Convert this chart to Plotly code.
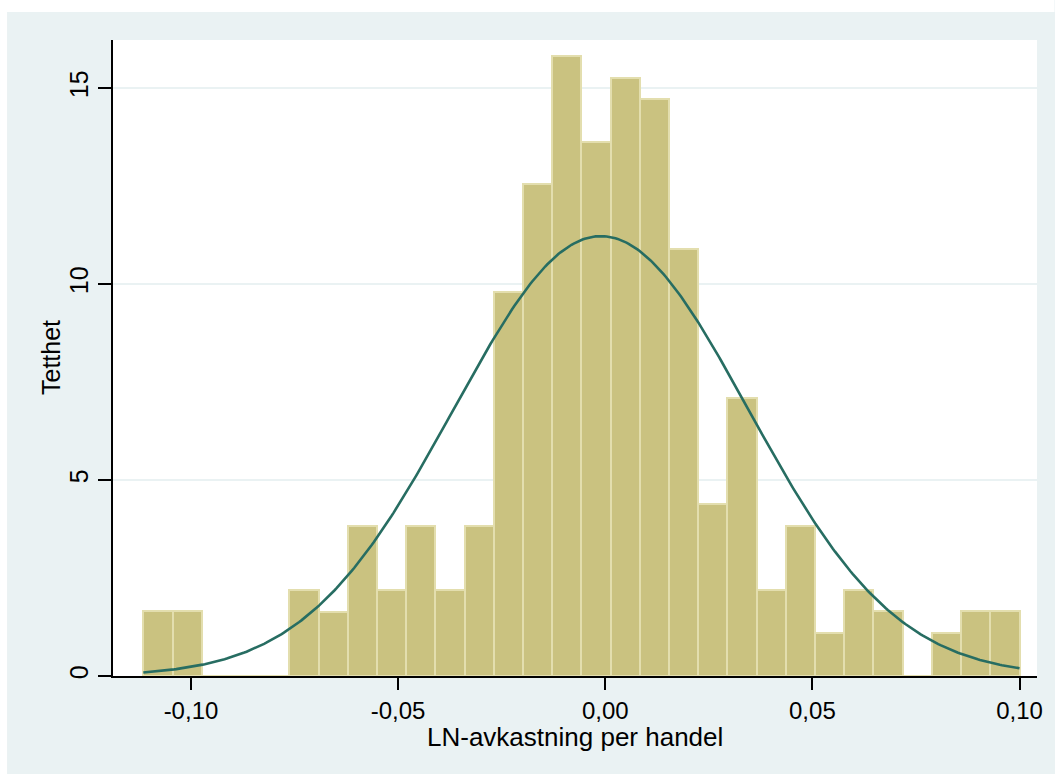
import numpy as np
import plotly.graph_objects as go

# Histogram of log-returns per trade (density scale), 30 equal-width bins
x_min = -0.1115
x_max = 0.1000
n_bins = 30
density = [1.65, 1.65, 0.0, 0.0, 0.0, 2.19, 1.64, 3.83, 2.19, 3.83,
           2.19, 3.83, 9.80, 12.54, 15.82, 13.63, 15.26, 14.72, 10.89, 4.38,
           7.10, 2.19, 3.83, 1.09, 2.19, 1.66, 0.0, 1.09, 1.66, 1.66]

# Fitted normal density parameters
norm_mean = -0.00104
norm_sd = 0.03555

x_tickvals = [-0.10, -0.05, 0.00, 0.05, 0.10]
x_ticktext = ["-0,10", "-0,05", "0,00", "0,05", "0,10"]
y_tickvals = [0, 5, 10, 15]
y_ticktext = ["0", "5", "10", "15"]

x_title = "LN-avkastning per handel"
y_title = "Tetthet"

# Colours
REGION_BG = "#EAF2F3"
BAR_FILL = "#CAC280"
BAR_EDGE = "#E3DEAE"
CURVE = "#276D62"
FONT = "Liberation Sans, Arial, sans-serif"

W, H = 1055, 774
ML, MR, MT, MB = 113, 17.5, 40, 98
X_RANGE = [-0.11882, 0.10422]
Y_RANGE = [0, (H - MT - MB) / 39.2]

bin_w = (x_max - x_min) / n_bins
centers = x_min + bin_w * (np.arange(n_bins) + 0.5)

xs = np.linspace(x_min, x_max, 400)
pdf = np.exp(-0.5 * ((xs - norm_mean) / norm_sd) ** 2) / (norm_sd * np.sqrt(2 * np.pi))

fig = go.Figure()
fig.add_trace(go.Bar(
    x=centers, y=density, width=bin_w,
    marker=dict(color=BAR_FILL, line=dict(color=BAR_EDGE, width=2)),
    hoverinfo="x+y", showlegend=False,
))
fig.add_trace(go.Scatter(
    x=xs, y=pdf, mode="lines",
    line=dict(color=CURVE, width=2.6),
    hoverinfo="skip", showlegend=False,
))

pw = W - ML - MR
ph = H - MT - MB


def px_x(p):
    return (p - ML) / pw


def px_y(p):
    return (H - MB - p) / ph


# white strips at the top and left edge of the graph region
shapes = [
    dict(type="rect", xref="paper", yref="paper",
         x0=px_x(0), x1=px_x(W), y0=px_y(12), y1=px_y(0),
         fillcolor="white", line=dict(width=0), layer="above"),
    dict(type="rect", xref="paper", yref="paper",
         x0=px_x(0), x1=px_x(7), y0=px_y(H), y1=px_y(0),
         fillcolor="white", line=dict(width=0), layer="above"),
]

annotations = [
    dict(text=x_title, xref="paper", yref="paper", x=0.5, y=0,
         xanchor="center", yanchor="middle", yshift=-(737 - (H - MB)),
         showarrow=False, font=dict(family=FONT, size=26, color="black")),
    dict(text=y_title, xref="paper", yref="paper", x=0, y=0.5,
         xanchor="center", yanchor="middle", xshift=-(ML - 51), textangle=-90,
         showarrow=False, font=dict(family=FONT, size=25, color="black")),
]

fig.update_layout(
    width=W, height=H,
    margin=dict(l=ML, r=MR, t=MT, b=MB, pad=0),
    paper_bgcolor=REGION_BG, plot_bgcolor="white",
    bargap=0, shapes=shapes, annotations=annotations,
    font=dict(family=FONT, size=25, color="black"),
)
fig.update_xaxes(
    range=X_RANGE, tickvals=x_tickvals, ticktext=x_ticktext,
    showgrid=False, zeroline=False,
    showline=True, linecolor="black", linewidth=1.5,
    ticks="outside", ticklen=12, tickwidth=1.5, tickcolor="black",
    tickfont=dict(family=FONT, size=24, color="black"),
)
fig.update_yaxes(
    range=Y_RANGE, tickvals=y_tickvals, ticktext=y_ticktext, tickangle=-90,
    showgrid=True, gridcolor=REGION_BG, gridwidth=2, zeroline=False,
    showline=True, linecolor="black", linewidth=1.5,
    ticks="outside", ticklen=13, tickwidth=1.5, tickcolor="black",
    tickfont=dict(family=FONT, size=25, color="black"),
)

fig.write_html("out.html")
